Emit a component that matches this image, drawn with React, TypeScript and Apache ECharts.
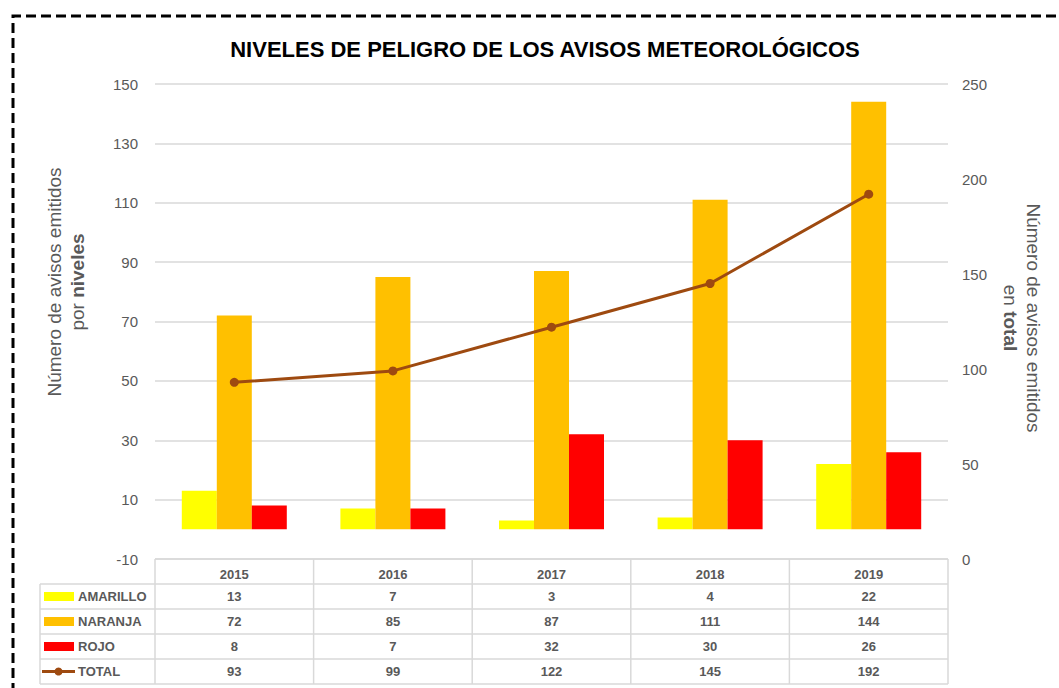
import React, { useEffect, useRef } from "react";
import * as echarts from "echarts";

const years = ["2015", "2016", "2017", "2018", "2019"];
const amarillo = [13, 7, 3, 4, 22];
const naranja = [72, 85, 87, 111, 144];
const rojo = [8, 7, 32, 30, 26];
const total = [93, 99, 122, 145, 192];

const seriesNames = ["AMARILLO", "NARANJA", "ROJO", "TOTAL"];
const seriesColors = ["#FFFF00", "#FFC000", "#FF0000", "#9E4A10"];

const W = 1059;
const H = 688;
const GL = 155;
const GR = 948;
const GT = 84;
const GB = 559;
const ROW = 25;
const FONT = "'Liberation Sans', sans-serif";

export default function App() {
  const ref = useRef<HTMLDivElement>(null);
  useEffect(() => {
    document.body.style.margin = "0";
    if (!ref.current) return;
    const chart = echarts.init(ref.current, null, { renderer: "svg" });
    const rows = [amarillo, naranja, rojo, total];
    const colW = (GR - GL) / years.length;
    const gray = "#595959";
    const border = "#D9D9D9";
    const g: any[] = [];
    g.push({
      type: "polyline",
      shape: { points: [[13, H + 5], [13, 16], [W + 5, 16]] },
      style: { stroke: "#000", lineWidth: 3, lineDash: [10, 5], fill: null },
    });
    for (let r = 0; r <= 5; r++) {
      const y = GB + ROW * r;
      g.push({
        type: "line",
        shape: { x1: r === 0 ? GL : 40, y1: y, x2: GR, y2: y },
        style: { stroke: border, lineWidth: 1.5 },
      });
    }
    for (let c = 0; c <= years.length; c++) {
      const x = GL + colW * c;
      g.push({
        type: "line",
        shape: { x1: x, y1: GB, x2: x, y2: GB + ROW * 5 },
        style: { stroke: border, lineWidth: 1.5 },
      });
    }
    g.push({
      type: "line",
      shape: { x1: 40, y1: GB + ROW, x2: 40, y2: GB + ROW * 5 },
      style: { stroke: border, lineWidth: 1.5 },
    });
    rows.forEach((vals, r) => {
      const cy = GB + ROW * (r + 1) + ROW / 2;
      if (r < 3) {
        g.push({
          type: "rect",
          shape: { x: 44, y: cy - 4.5, width: 30, height: 9 },
          style: { fill: seriesColors[r] },
        });
      } else {
        g.push({
          type: "line",
          shape: { x1: 42, y1: cy, x2: 75, y2: cy },
          style: { stroke: seriesColors[r], lineWidth: 3 },
        });
        g.push({
          type: "circle",
          shape: { cx: 58.5, cy, r: 4 },
          style: { fill: seriesColors[r] },
        });
      }
      g.push({
        type: "text",
        x: 78,
        y: cy,
        style: {
          text: seriesNames[r],
          fill: gray,
          font: `bold 13px ${FONT}`,
          verticalAlign: "middle",
          align: "left",
        },
      });
      vals.forEach((v, c) => {
        g.push({
          type: "text",
          x: GL + colW * (c + 0.5),
          y: cy,
          style: {
            text: String(v),
            fill: gray,
            font: `bold 13px ${FONT}`,
            verticalAlign: "middle",
            align: "center",
          },
        });
      });
    });
    const rich = {
      b: { font: `19px ${FONT}`, fill: gray, lineHeight: 23 },
      bb: { font: `bold 19px ${FONT}`, fill: gray, lineHeight: 23 },
    };
    g.push({
      type: "text",
      x: 66,
      y: 282,
      rotation: Math.PI / 2,
      style: {
        text: "Número de avisos emitidos\n{b|por }{bb|niveles}",
        rich,
        font: `19px ${FONT}`,
        lineHeight: 23,
        fill: gray,
        align: "center",
        verticalAlign: "middle",
      },
    });
    g.push({
      type: "text",
      x: 1022,
      y: 318,
      rotation: -Math.PI / 2,
      style: {
        text: "Número de avisos emitidos\n{b|en }{bb|total}",
        rich,
        font: `19px ${FONT}`,
        lineHeight: 23,
        fill: gray,
        align: "center",
        verticalAlign: "middle",
      },
    });

    chart.setOption({
      animation: false,
      title: {
        text: "NIVELES DE PELIGRO DE LOS AVISOS METEOROLÓGICOS",
        left: 540,
        textAlign: "center",
        top: 33,
        textStyle: { fontFamily: FONT, fontWeight: "bold", fontSize: 22, color: "#000" },
      },
      grid: { left: GL, right: W - GR, top: GT, bottom: H - GB },
      xAxis: {
        type: "category",
        data: years,
        axisLine: { show: false },
        axisTick: { show: false },
        axisLabel: {
          color: gray,
          fontFamily: FONT,
          fontWeight: "bold",
          fontSize: 13,
          margin: 9,
        },
      },
      yAxis: [
        {
          type: "value",
          min: -10,
          max: 150,
          interval: 20,
          axisLine: { show: false },
          axisTick: { show: false },
          splitLine: { lineStyle: { color: border, width: 1.5 } },
          axisLabel: { color: gray, fontFamily: FONT, fontSize: 15, margin: 17 },
        },
        {
          type: "value",
          min: 0,
          max: 250,
          interval: 50,
          position: "right",
          axisLine: { show: false },
          axisTick: { show: false },
          splitLine: { show: false },
          axisLabel: {
            color: gray,
            fontFamily: FONT,
            fontSize: 15,
            margin: 14,
          },
        },
      ],
      series: [
        { name: seriesNames[0], type: "bar", data: amarillo, itemStyle: { color: seriesColors[0] }, barWidth: 35, barGap: "0%" },
        { name: seriesNames[1], type: "bar", data: naranja, itemStyle: { color: seriesColors[1] }, barWidth: 35, barGap: "0%" },
        { name: seriesNames[2], type: "bar", data: rojo, itemStyle: { color: seriesColors[2] }, barWidth: 35, barGap: "0%" },
        {
          name: seriesNames[3],
          type: "line",
          yAxisIndex: 1,
          data: total,
          symbol: "circle",
          symbolSize: 9,
          lineStyle: { color: seriesColors[3], width: 3 },
          itemStyle: { color: seriesColors[3] },
        },
      ],
      graphic: g,
    });
    return () => chart.dispose();
  }, []);
  return <div ref={ref} style={{ width: W, height: H, position: "absolute", left: 0, top: 0 }} />;
}
